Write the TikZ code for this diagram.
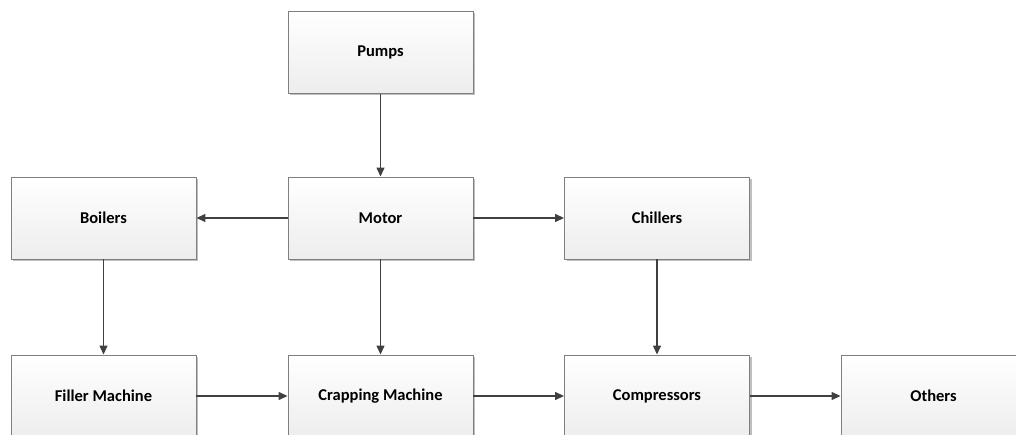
\documentclass[tikz,border=0pt]{standalone}
\usepackage{fontspec}
\setmainfont{Carlito}
\usetikzlibrary{arrows.meta,shadows}
\definecolor{boxline}{HTML}{7F7F7F}
\definecolor{arrowcol}{HTML}{404040}
\tikzset{
  procbox/.style={draw=boxline, line width=0.9pt, minimum width=185pt, minimum height=82pt,
    top color=white, bottom color=black!7, inner sep=0pt,
    drop shadow={shadow xshift=2pt, shadow yshift=-2pt, fill=black!25, opacity=1},
    font=\fontsize{16.5pt}{19pt}\selectfont\bfseries},
  flow/.style={draw=arrowcol, line width=1.3pt, -{Triangle[length=9pt,width=8pt]}}
}
\begin{document}
\begin{tikzpicture}[x=1pt,y=1pt]
\useasboundingbox (0,0) rectangle (1016,-435);
\clip (0,0) rectangle (1016,-435);
\node[procbox] (pumps) at (380.5,-52.5) {Pumps};
\node[procbox] (boilers) at (103.5,-218) {Boilers};
\node[procbox] (motor) at (380.5,-218) {Motor};
\node[procbox] (chillers) at (657,-218) {Chillers};
\node[procbox] (filler) at (103.5,-396) {Filler Machine};
\node[procbox] (crapping) at (380.5,-396) {Crapping Machine};
\node[procbox] (compressors) at (657,-396) {Compressors};
\node[procbox] (others) at (933.5,-396) {Others};
\draw[flow] (pumps) -- (motor);
\draw[flow] (motor) -- (boilers);
\draw[flow] (motor) -- (chillers);
\draw[flow] (motor) -- (crapping);
\draw[flow] (boilers) -- (filler);
\draw[flow] (chillers) -- (compressors);
\draw[flow] (filler) -- (crapping);
\draw[flow] (crapping) -- (compressors);
\draw[flow] (compressors) -- (others);
\end{tikzpicture}
\end{document}
